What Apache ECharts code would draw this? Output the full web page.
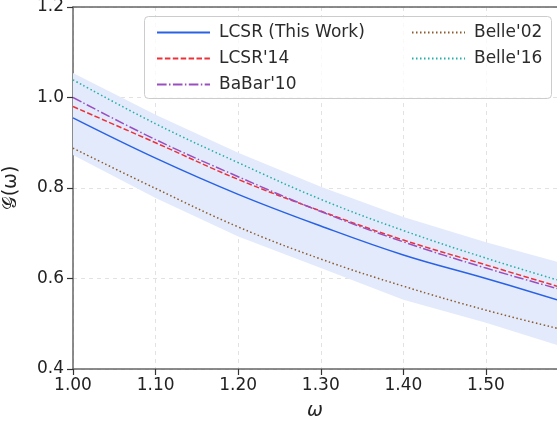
<!DOCTYPE html>
<html>
<head>
<meta charset="utf-8">
<script src="https://cdn.jsdelivr.net/npm/echarts@6/dist/echarts.min.js"></script>
<style>
html,body{margin:0;padding:0;background:#fff;}
#chart{width:557px;height:426px;}
</style>
</head>
<body>
<div id="chart"></div>
<script>
// omega grid
const omega = [1.00, 1.10, 1.20, 1.30, 1.40, 1.50, 1.586];
// series values
const lcsrThis = [0.955, 0.866, 0.786, 0.716, 0.652, 0.600, 0.553];
const bandUpper = [1.054, 0.962, 0.878, 0.803, 0.736, 0.680, 0.637];
const bandLower = [0.873, 0.778, 0.693, 0.623, 0.553, 0.502, 0.453];
const lcsr14 = [0.980, 0.900, 0.819, 0.749, 0.685, 0.630, 0.583];
const babar10 = [1.000, 0.907, 0.825, 0.748, 0.681, 0.623, 0.578];
const belle02 = [0.888, 0.799, 0.714, 0.643, 0.583, 0.530, 0.490];
const belle16 = [1.039, 0.942, 0.856, 0.775, 0.706, 0.645, 0.597];
// tick labels
const xTicks = ['1.00', '1.10', '1.20', '1.30', '1.40', '1.50'];
const yTicks = ['0.4', '0.6', '0.8', '1.0', '1.2'];
const names = ['LCSR (This Work)', "LCSR'14", "BaBar'10", "Belle'02", "Belle'16"];

const pts = arr => omega.map((w, i) => [w, arr[i]]);

const FONT = 'DejaVu Sans';
const chart = echarts.init(document.getElementById('chart'), null, {renderer: 'canvas'});

function lineSeries(name, arr, color, type) {
  return {
    name: name, type: 'line', data: pts(arr), smooth: 0.4,
    symbol: 'none', showSymbol: false, z: 3,
    lineStyle: {color: color, width: 1.5, type: type, cap: 'butt'},
    itemStyle: {color: color}
  };
}

const legendCommon = {
  orient: 'vertical', top: 19, itemWidth: 53, itemHeight: 16, itemGap: 9, z: 5,
  itemStyle: {opacity: 0},
  textStyle: {fontFamily: FONT, fontSize: 17, color: '#2b2b2b', padding: [0, 0, 0, 4]}
};

const option = {
  animation: false,
  backgroundColor: '#fff',
  textStyle: {fontFamily: FONT},
  grid: {left: 73, right: 0, top: 7, bottom: 57, containLabel: false, outerBoundsMode: 'none'},
  xAxis: [{
    type: 'value', min: 1.0, max: 1.586, interval: 0.1,
    name: 'ω', nameLocation: 'middle', nameGap: 33,
    nameTextStyle: {fontFamily: FONT, fontSize: 19, fontStyle: 'italic', color: '#222'},
    axisLine: {show: true, lineStyle: {color: '#666', width: 1.5}},
    axisTick: {show: true, length: 6, lineStyle: {color: '#333', width: 1.2}},
    axisLabel: {
      fontFamily: FONT, fontSize: 17, color: '#222', margin: 8, showMaxLabel: false,
      formatter: v => { const i = Math.round((v - 1.0) / 0.1); return Math.abs(v - (1.0 + i * 0.1)) < 1e-6 && i < xTicks.length ? xTicks[i] : ''; }
    },
    splitLine: {show: true, lineStyle: {color: '#e2e2e2', width: 1, type: [4, 4]}}
  }, {
    type: 'value', min: 1.0, max: 1.586, position: 'top',
    axisLine: {show: true, lineStyle: {color: '#666', width: 1.5}},
    axisTick: {show: false}, axisLabel: {show: false}, splitLine: {show: false}
  }],
  yAxis: {
    type: 'value', min: 0.4, max: 1.2, interval: 0.2,
    name: '𝒢(ω)', nameLocation: 'middle', nameGap: 52, nameRotate: 90,
    nameTextStyle: {fontFamily: FONT, fontSize: 19, color: '#222'},
    axisLine: {show: true, lineStyle: {color: '#666', width: 1.5}},
    axisTick: {show: true, length: 6, lineStyle: {color: '#333', width: 1.2}},
    axisLabel: {
      fontFamily: FONT, fontSize: 17, color: '#222', margin: 9,
      formatter: v => { const i = Math.round((v - 0.4) / 0.2); return yTicks[i] || ''; }
    },
    splitLine: {show: true, lineStyle: {color: '#e2e2e2', width: 1, type: [4, 4]}}
  },
  legend: [
    Object.assign({}, legendCommon, {data: [names[0], names[1], names[2]], left: 151}),
    Object.assign({}, legendCommon, {data: [names[3], names[4]], left: 406})
  ],
  graphic: [{
    type: 'rect', left: 144, top: 16, z: 4,
    shape: {width: 407, height: 82, r: 4},
    style: {fill: 'rgba(255,255,255,0.8)', stroke: '#cccccc', lineWidth: 1}
  }],
  series: [
    {
      name: 'band', type: 'custom', silent: true, z: 1, clip: true,
      data: omega.map((w, i) => [w, bandLower[i], bandUpper[i]]),
      encode: {x: 0, y: [1, 2]},
      renderItem: function (params, api) {
        if (params.dataIndex !== 0) return;
        const up = [], lo = [];
        for (let i = 0; i < omega.length; i++) {
          up.push(api.coord([omega[i], bandUpper[i]]));
          lo.push(api.coord([omega[i], bandLower[i]]));
        }
        return {
          type: 'polygon',
          shape: {points: up.concat(lo.reverse())},
          style: {fill: '#e3eafb', stroke: null}
        };
      }
    },
    lineSeries(names[0], lcsrThis, '#2a62e6', 'solid'),
    lineSeries(names[1], lcsr14, '#ec3238', [5.5, 2.4]),
    lineSeries(names[2], babar10, '#9a4fc0', [9.6, 2.4, 1.5, 2.4]),
    lineSeries(names[3], belle02, '#8b5a2b', [1.5, 2.5]),
    lineSeries(names[4], belle16, '#1fb0a6', [1.5, 2.5])
  ]
};
chart.setOption(option);
</script>
</body>
</html>
